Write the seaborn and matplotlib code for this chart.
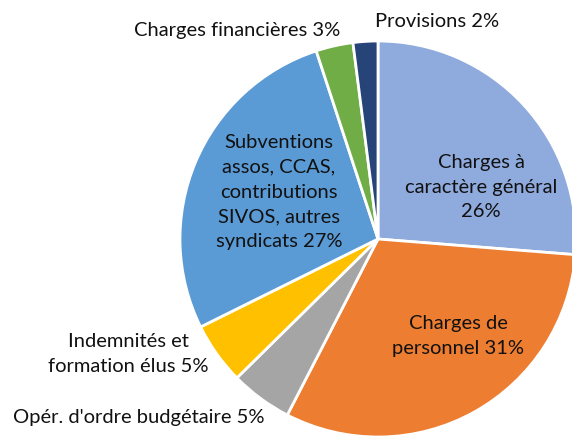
import matplotlib
matplotlib.use("Agg")
import matplotlib.pyplot as plt
import seaborn as sns

categories = ["Charges à\ncaractère général\n26%",
              "Charges de\npersonnel 31%",
              "Opér. d'ordre budgétaire 5%",
              "Indemnités et\nformation élus 5%",
              "Subventions\nassos, CCAS,\ncontributions\nSIVOS, autres\nsyndicats 27%",
              "Charges financières 3%",
              "Provisions 2%"]
values = [26, 31, 5, 5, 27, 3, 2]
colors = ["#8FAADC", "#ED7D31", "#A5A5A5", "#FFC000", "#5B9BD5", "#70AD47", "#264478"]

sns.set_theme(style="white")
plt.rcParams['font.family'] = ['Lato', 'DejaVu Sans']

W, H = 572, 439
fig = plt.figure(figsize=(W / 100, H / 100), dpi=100)
ax = fig.add_axes([0, 0, 1, 1])

cx, cy, r = 378, H - 240, 198
ax.pie(values, colors=colors, startangle=90, counterclock=False,
       center=(cx, cy), radius=r, frame=True,
       wedgeprops=dict(edgecolor="white", linewidth=2))
ax.set_xlim(0, W)
ax.set_ylim(0, H)
ax.set_aspect("equal")
ax.axis("off")

# label positions in pixel coordinates (x, y from top)
label_pos = [(481, 187), (458, 336), (139, 418), (128, 354), (279, 192), (237, 30), (437, 21)]
for text, (x, y) in zip(categories, label_pos):
    ax.text(x, H - y, text, ha="center", va="center", fontsize=14.5,
            color="#111111", linespacing=1.55)

fig.savefig("out.png", dpi=100)
